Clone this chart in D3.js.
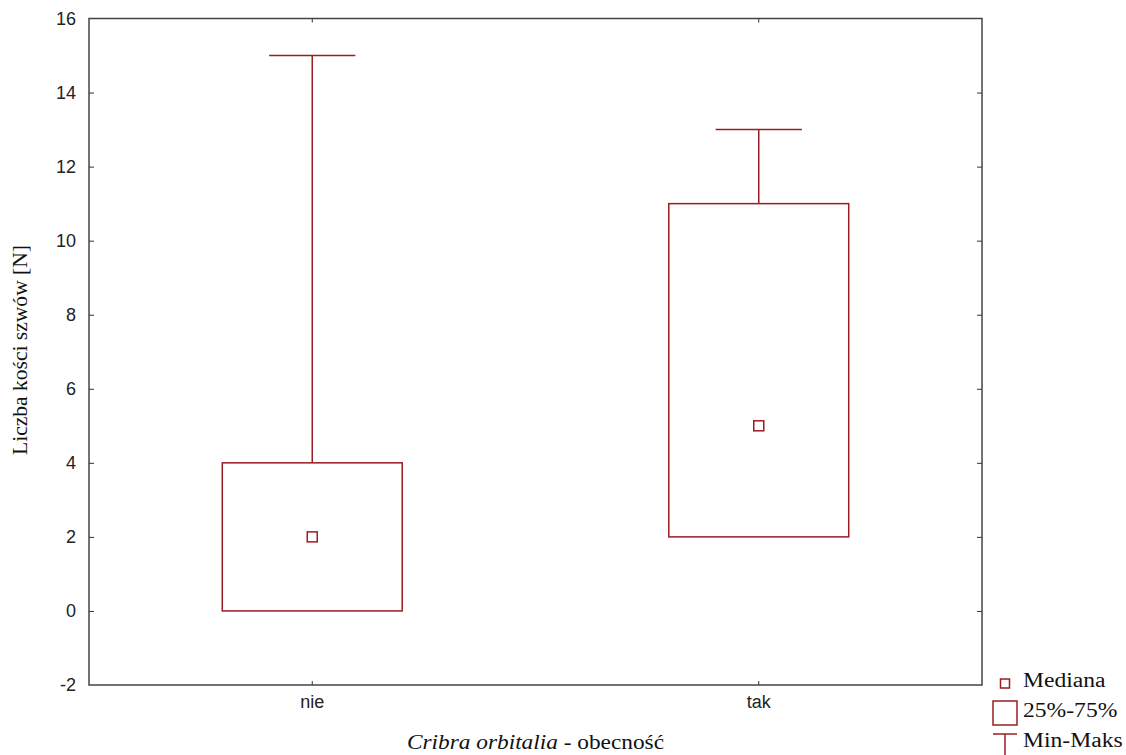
<!DOCTYPE html>
<html>
<head>
<meta charset="utf-8">
<script src="https://cdn.jsdelivr.net/npm/d3@7"></script>
<style>
  body { margin: 0; background: #fff; }
  .tick text { font-family: "Liberation Sans", Arial, sans-serif; font-size: 18px; fill: #222; }
  .serif { font-family: "Liberation Serif", "Times New Roman", serif; fill: #111; }
</style>
</head>
<body>
<svg id="chart" width="1126" height="755"></svg>
<script>
// data
var categories = ["nie", "tak"];
var minVals = [0, 2];
var q1Vals = [0, 2];
var medianVals = [2, 5];
var q3Vals = [4, 11];
var maxVals = [15, 13];
var yTicks = [-2, 0, 2, 4, 6, 8, 10, 12, 14, 16];
var legendItems = ["Mediana", "25%-75%", "Min-Maks"];

var colour = "#9b1c22";
var margin = {top: 18.5, right: 144, bottom: 70, left: 89};
var width = 1126 - margin.left - margin.right,
	height = 755 - margin.top - margin.bottom;

var svg = d3.select("#chart");
var g = svg.append("g")
	.attr("transform", "translate(" + margin.left + "," + margin.top + ")");

var x = d3.scaleBand().domain(categories).range([0, width]).padding(0);
var y = d3.scaleLinear().domain([-2, 16]).range([height, 0]);

var boxW = x.bandwidth() * 0.403;
var capW = x.bandwidth() * 0.193;
var medW = 10;

// frame
g.append("rect")
	.attr("width", width).attr("height", height)
	.attr("fill", "none").attr("stroke", "#444").attr("stroke-width", 1.5);

// left axis, ticks pointing inward
var yAxis = g.append("g")
	.call(d3.axisLeft(y).tickValues(yTicks).tickSize(-5).tickPadding(13));
yAxis.select(".domain").remove();
yAxis.selectAll("line").attr("stroke", "#333");
yAxis.selectAll("line").filter(function(d) { return d === 16 || d === -2; }).remove();
yAxis.selectAll("text").text(function(d) { return String(d); }); // plain hyphen for -2

// right ticks
var yAxisR = g.append("g")
	.attr("transform", "translate(" + width + ",0)")
	.call(d3.axisRight(y).tickValues(yTicks).tickSize(-5).tickFormat(""));
yAxisR.select(".domain").remove();
yAxisR.selectAll("line").attr("stroke", "#333");
yAxisR.selectAll("line").filter(function(d) { return d === 16 || d === -2; }).remove();

// bottom axis
var xAxis = g.append("g")
	.attr("transform", "translate(0," + height + ")")
	.call(d3.axisBottom(x).tickSize(-4).tickPadding(10));
xAxis.select(".domain").remove();
xAxis.selectAll("line").attr("stroke", "#333");

// top ticks
var xAxisT = g.append("g")
	.call(d3.axisTop(x).tickSize(-4).tickFormat(""));
xAxisT.select(".domain").remove();
xAxisT.selectAll("line").attr("stroke", "#333");

// boxes
var boxes = g.selectAll(".box")
	.data(categories)
	.enter().append("g")
	.attr("class", "box")
	.attr("transform", function(d) { return "translate(" + (x(d) + x.bandwidth() / 2) + ",0)"; });

boxes.append("line")
	.attr("x1", 0).attr("x2", 0)
	.attr("y1", function(d, i) { return y(q3Vals[i]); })
	.attr("y2", function(d, i) { return y(maxVals[i]); })
	.attr("stroke", colour).attr("stroke-width", 1.5);
boxes.append("line")
	.attr("x1", 0).attr("x2", 0)
	.attr("y1", function(d, i) { return y(q1Vals[i]); })
	.attr("y2", function(d, i) { return y(minVals[i]); })
	.attr("stroke", colour).attr("stroke-width", 1.5);
boxes.append("line")
	.attr("x1", -capW / 2).attr("x2", capW / 2)
	.attr("y1", function(d, i) { return y(maxVals[i]); })
	.attr("y2", function(d, i) { return y(maxVals[i]); })
	.attr("stroke", colour).attr("stroke-width", 1.5);
boxes.append("rect")
	.attr("x", -boxW / 2).attr("width", boxW)
	.attr("y", function(d, i) { return y(q3Vals[i]); })
	.attr("height", function(d, i) { return y(q1Vals[i]) - y(q3Vals[i]); })
	.attr("fill", "none").attr("stroke", colour).attr("stroke-width", 1.5);
boxes.append("rect")
	.attr("x", -medW / 2).attr("width", medW)
	.attr("y", function(d, i) { return y(medianVals[i]) - medW / 2; })
	.attr("height", medW)
	.attr("fill", "none").attr("stroke", colour).attr("stroke-width", 1.5);

// axis titles
var xt = svg.append("text")
	.attr("class", "serif")
	.attr("x", 407)
	.attr("y", 749)
	.attr("textLength", 257)
	.attr("lengthAdjust", "spacingAndGlyphs")
	.style("font-size", "21px");
xt.append("tspan").style("font-style", "italic").text("Cribra orbitalia");
xt.append("tspan").text(" - obecność");

svg.append("text")
	.attr("class", "serif")
	.attr("transform", "translate(27," + 350 + ") rotate(-90)")
	.attr("text-anchor", "middle")
	.attr("textLength", 210)
	.attr("lengthAdjust", "spacingAndGlyphs")
	.style("font-size", "20px")
	.text("Liczba kości szwów [N]");

// legend
var lg = svg.append("g").attr("transform", "translate(1005,0)");
lg.append("rect").attr("x", -4.5).attr("y", 679).attr("width", 9).attr("height", 9)
	.attr("fill", "none").attr("stroke", colour).attr("stroke-width", 1.5);
lg.append("rect").attr("x", -12).attr("y", 701).attr("width", 24).attr("height", 24)
	.attr("fill", "none").attr("stroke", colour).attr("stroke-width", 1.5);
lg.append("line").attr("x1", -12).attr("x2", 12).attr("y1", 734).attr("y2", 734)
	.attr("stroke", colour).attr("stroke-width", 1.5);
lg.append("line").attr("x1", 0).attr("x2", 0).attr("y1", 734).attr("y2", 755)
	.attr("stroke", colour).attr("stroke-width", 1.5);
lg.selectAll(".lgText")
	.data(legendItems)
	.enter().append("text")
	.attr("class", "serif")
	.attr("x", 18)
	.attr("y", function(d, i) { return 687 + i * 30; })
	.style("font-size", "20px")
	.text(function(d) { return d; })
	.each(function() {
		// reference font is wider than Liberation Serif, stretch a bit
		d3.select(this)
			.attr("textLength", this.getComputedTextLength() * 1.18)
			.attr("lengthAdjust", "spacingAndGlyphs");
	});
</script>
</body>
</html>
